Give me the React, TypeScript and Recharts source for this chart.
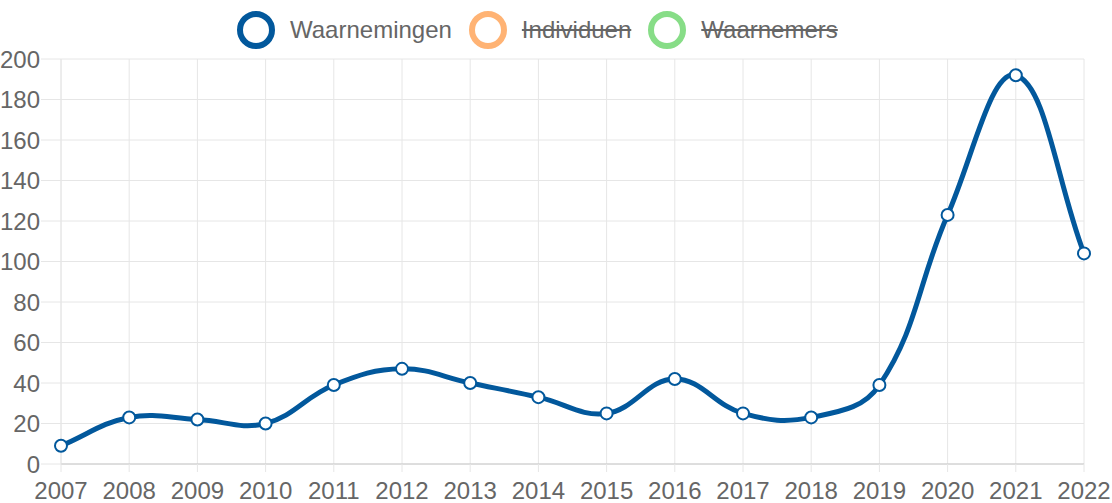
import React from 'react';
import { LineChart, Line, XAxis, YAxis, CartesianGrid, Legend } from 'recharts';

const years = ['2007', '2008', '2009', '2010', '2011', '2012', '2013', '2014', '2015', '2016', '2017', '2018', '2019', '2020', '2021', '2022'];
const waarnemingen = [9, 23, 22, 20, 39, 47, 40, 33, 25, 42, 25, 23, 39, 123, 192, 104];
const yTicks = [0, 20, 40, 60, 80, 100, 120, 140, 160, 180, 200];

const legendItems = [
    { label: 'Waarnemingen', color: '#02589c', hidden: false },
    { label: 'Individuen', color: '#ffb374', hidden: true },
    { label: 'Waarnemers', color: '#87dd87', hidden: true },
];

const data = years.map((year, i) => ({ year, waarnemingen: waarnemingen[i] }));

const FONT = '"Liberation Sans", Arial, sans-serif';
const TEXT = '#666666';
const GRID = '#e6e6e6';

// Chart.js style spline (tension 0.4), as a d3 curve factory
const splineCurve = (context: any) => {
    let pts: [number, number][] = [];
    return {
        areaStart() {},
        areaEnd() {},
        lineStart() { pts = []; },
        point(x: number, y: number) { pts.push([+x, +y]); },
        lineEnd() {
            const n = pts.length;
            if (!n) return;
            const t = 0.4;
            const cps = pts.map((p, i) => {
                const prev = pts[i - 1] || p;
                const next = pts[i + 1] || p;
                const d01 = Math.hypot(p[0] - prev[0], p[1] - prev[1]);
                const d12 = Math.hypot(next[0] - p[0], next[1] - p[1]);
                const sum = d01 + d12 || 1;
                const fa = t * (d01 / sum);
                const fb = t * (d12 / sum);
                return {
                    c1: [p[0] - fa * (next[0] - prev[0]), p[1] - fa * (next[1] - prev[1])],
                    c2: [p[0] + fb * (next[0] - prev[0]), p[1] + fb * (next[1] - prev[1])],
                };
            });
            context.moveTo(pts[0][0], pts[0][1]);
            for (let i = 1; i < n; i++) {
                context.bezierCurveTo(cps[i - 1].c2[0], cps[i - 1].c2[1], cps[i].c1[0], cps[i].c1[1], pts[i][0], pts[i][1]);
            }
        },
    };
};

const renderLegend = () => (
    <div style={{ position: 'relative', height: 59, fontFamily: FONT, fontSize: 24, color: TEXT }}>
        <div style={{ position: 'absolute', left: 236, top: 10, display: 'flex', alignItems: 'center' }}>
            {legendItems.map((item) => (
                <div key={item.label} style={{ display: 'flex', alignItems: 'center', marginRight: 16 }}>
                    <svg width={40} height={40}>
                        <circle cx={20} cy={20} r={16} fill="none" stroke={item.color} strokeWidth={6} />
                    </svg>
                    <span style={{ marginLeft: 14, textDecoration: item.hidden ? 'line-through' : 'none', lineHeight: '40px' }}>
                        {item.label}
                    </span>
                </div>
            ))}
        </div>
    </div>
);

const App: React.FC = () => {
    return (
        <div style={{ position: 'absolute', left: 0, top: 0, background: '#fff' }}>
            <LineChart width={1112} height={503} data={data} margin={{ top: 0, right: 28, left: 0, bottom: 0 }}>
                <Legend verticalAlign="top" align="left" content={renderLegend} wrapperStyle={{ top: 0, left: 0, width: 1112, height: 59 }} />
                <CartesianGrid stroke={GRID} strokeWidth={1} />
                <XAxis
                    dataKey="year"
                    interval={0}
                    height={39}
                    tickSize={8}
                    tickMargin={10}
                    stroke="#c8c8c8"
                    tickLine={{ stroke: GRID }}
                    tick={{ fill: TEXT, fontSize: 24, fontFamily: FONT }}
                />
                <YAxis
                    domain={[0, 200]}
                    ticks={yTicks}
                    width={61}
                    tickSize={20}
                    tickMargin={1}
                    interval={0}
                    axisLine={{ stroke: GRID }}
                    tickLine={{ stroke: GRID }}
                    tick={{ fill: TEXT, fontSize: 24, fontFamily: FONT }}
                />
                <Line
                    type={splineCurve as any}
                    dataKey="waarnemingen"
                    name="Waarnemingen"
                    stroke="#02589c"
                    strokeWidth={5}
                    dot={{ r: 6, fill: '#fff', stroke: '#02589c', strokeWidth: 2 }}
                    isAnimationActive={false}
                />
            </LineChart>
        </div>
    );
};

export default App;
